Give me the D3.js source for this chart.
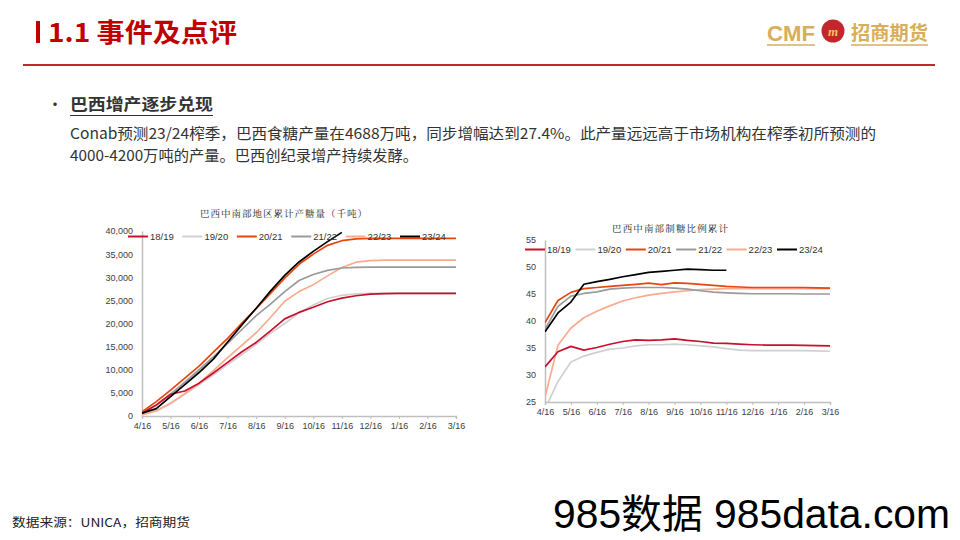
<!DOCTYPE html>
<html><head><meta charset="utf-8">
<script src="https://cdn.jsdelivr.net/npm/d3@7"></script>
<style>
html,body{margin:0;padding:0;background:#fff;}
svg{display:block;font-family:"Noto Sans CJK SC","Liberation Sans",sans-serif;}
</style></head>
<body>
<svg id="c" width="960" height="540"></svg>
<script>
// ---------- data ----------
const seasons = ["18/19","19/20","20/21","21/22","22/23","23/24"];
const tickLabels = ["4/16","5/16","6/16","7/16","8/16","9/16","10/16","11/16","12/16","1/16","2/16","3/16"];
// half-month points from 4/16 to 3/16 (23 points)
const cum1819 = [600,2400,4700,5400,7100,9300,11600,13900,15900,18400,21000,22400,23500,24700,25500,26000,26350,26450,26500,26500,26500,26500,26500];
const cum1920 = [300,1200,2800,4700,6800,8900,11100,13300,15500,17900,20000,22300,24000,25400,26100,26400,26500,26500,26500,26500,26500,26500,26500];
const cum2021 = [900,3100,5600,8200,10800,13800,16800,20100,23200,26500,29800,32800,35000,36900,37900,38300,38400,38400,38400,38400,38400,38400,38400];
const cum2122 = [700,2300,4700,7300,10000,12800,15700,18700,21700,24200,26900,29300,30600,31500,32000,32150,32200,32200,32200,32200,32200,32200,32200];
const cum2223 = [300,1100,2700,4800,7100,9800,12600,15300,18000,21300,24800,26900,28400,30300,32100,33250,33600,33700,33700,33700,33700,33700,33700];
const cum2324 = [600,1600,4200,6800,9400,12300,16000,19700,23300,27000,30400,33300,35600,37700,39700];

const mix1819 = [31.5,34.3,35.3,34.6,35.1,35.7,36.2,36.5,36.4,36.5,36.7,36.4,36.2,35.9,35.85,35.7,35.6,35.55,35.55,35.55,35.5,35.45,35.4];
const mix1920 = [23.7,28.8,32.4,33.5,34.2,34.8,35.0,35.4,35.6,35.6,35.7,35.6,35.4,35.2,34.9,34.6,34.5,34.5,34.5,34.5,34.5,34.45,34.4];
const mix2021 = [39.7,43.8,45.3,46.0,46.2,46.4,46.6,46.8,47.0,46.75,47.05,46.95,46.8,46.6,46.4,46.3,46.2,46.2,46.2,46.2,46.2,46.15,46.1];
const mix2122 = [38.5,42.7,44.6,45.1,45.4,45.9,46.1,46.2,46.2,46.2,46.1,45.9,45.6,45.35,45.2,45.1,45.05,45.05,45.05,45.05,45.0,45.0,45.0];
const mix2223 = [25.9,35.5,38.7,40.6,41.8,42.8,43.7,44.3,44.8,45.1,45.4,45.6,45.8,45.9,46.0,46.0,46.0,46.0,46.0,46.0,46.0,46.0,46.0];
const mix2324 = [38.0,41.5,43.5,46.8,47.3,47.7,48.2,48.6,49.0,49.2,49.4,49.6,49.5,49.4,49.4];

const colors = ["#c8102e","#d0d0d0","#e8450f","#9a9a9a","#fbaa8e","#000000"];
const drawOrder = [1,4,3,0,2,5];

// ---------- page ----------
const svg = d3.select("#c");
// header
svg.append("rect").attr("x",36).attr("y",21).attr("width",4).attr("height",22).attr("fill","#c00000");
svg.append("text").attr("x",48).attr("y",42).attr("font-size",26).attr("font-weight",700)
  .attr("fill","#c00000").attr("textLength",189).attr("lengthAdjust","spacingAndGlyphs").text("1.1 事件及点评");
svg.append("line").attr("x1",23).attr("x2",935).attr("y1",65).attr("y2",65).attr("stroke","#c0282d").attr("stroke-width",2);
// logo
svg.append("text").attr("x",767).attr("y",41).attr("font-size",22).attr("font-weight",700)
  .attr("font-family","Liberation Sans").attr("fill","#d8ad5c").attr("textLength",48).attr("lengthAdjust","spacingAndGlyphs").text("CMF");
svg.append("circle").attr("cx",833).attr("cy",31).attr("r",11.5).attr("fill","#c4262b");
svg.append("text").attr("x",833).attr("y",36).attr("text-anchor","middle").attr("font-size",13).attr("font-weight",700)
  .attr("font-style","italic").attr("fill","#f3c55a").attr("font-family","Liberation Serif").text("m");
svg.append("text").attr("x",851).attr("y",40).attr("font-size",19).attr("font-weight",700)
  .attr("fill","#d8ad5c").attr("textLength",77).attr("lengthAdjust","spacingAndGlyphs").text("招商期货");
svg.append("line").attr("x1",767).attr("x2",815).attr("y1",45).attr("y2",45).attr("stroke","#d8ad5c").attr("stroke-width",1.5);
svg.append("line").attr("x1",851).attr("x2",928).attr("y1",45).attr("y2",45).attr("stroke","#d8ad5c").attr("stroke-width",1.5);

// bullet + subtitle
svg.append("text").attr("x",47).attr("y",110).attr("font-size",16).attr("fill","#333").text("•");
svg.append("text").attr("x",70).attr("y",110).attr("font-size",16).attr("font-weight",700).attr("fill","#333")
  .attr("textLength",143).attr("lengthAdjust","spacingAndGlyphs").text("巴西增产逐步兑现");
svg.append("line").attr("x1",70).attr("x2",213).attr("y1",115.5).attr("y2",115.5).attr("stroke","#333").attr("stroke-width",1.2);
svg.append("text").attr("x",70).attr("y",139).attr("font-size",15).attr("fill","#333")
  .attr("textLength",806).attr("lengthAdjust","spacingAndGlyphs")
  .text("Conab预测23/24榨季，巴西食糖产量在4688万吨，同步增幅达到27.4%。此产量远远高于市场机构在榨季初所预测的");
svg.append("text").attr("x",70).attr("y",161).attr("font-size",15).attr("fill","#333")
  .attr("textLength",348).attr("lengthAdjust","spacingAndGlyphs")
  .text("4000-4200万吨的产量。巴西创纪录增产持续发酵。");

// footer
svg.append("text").attr("x",12).attr("y",527).attr("font-size",12).attr("fill","#222")
  .attr("textLength",178).attr("lengthAdjust","spacingAndGlyphs").text("数据来源：UNICA，招商期货");
svg.append("text").attr("x",553).attr("y",528).attr("font-size",40).attr("fill","#000")
  .attr("font-family","Liberation Sans Narrow, Liberation Sans, Noto Sans CJK SC")
  .attr("textLength",397).attr("lengthAdjust","spacingAndGlyphs").text("985数据 985data.com");

// ---------- chart helper ----------
function chart(cfg){
  const g = svg.append("g");
  const x = d3.scaleLinear().domain([0,22]).range([cfg.x0,cfg.x1]);
  const y = d3.scaleLinear().domain(cfg.yDomain).range([cfg.y0,cfg.y1]);
  const clipId = "clip"+cfg.id;
  svg.append("clipPath").attr("id",clipId).append("rect")
    .attr("x",cfg.x0).attr("y",cfg.y1-2).attr("width",cfg.x1-cfg.x0+2).attr("height",cfg.y0-cfg.y1+2);
  // title
  g.append("text").attr("x",cfg.titleX).attr("y",cfg.titleY).attr("font-size",9.5).attr("fill","#222")
    .attr("font-family","Noto Serif CJK SC, Noto Sans CJK SC")
    .attr("textLength",cfg.titleW).attr("lengthAdjust","spacing").text(cfg.title);
  // axes
  const yAxis = d3.axisLeft(y).tickValues(cfg.yTicks).tickSize(0).tickPadding(9).tickFormat(cfg.fmt);
  const ya = g.append("g").attr("transform",`translate(${cfg.x0},0)`).call(yAxis);
  const monthIdx = d3.range(0,23,2);
  const xAxis = d3.axisBottom(x).tickValues(monthIdx).tickSize(3).tickPadding(4)
    .tickFormat((d,i)=>tickLabels[i]);
  const xa = g.append("g").attr("transform",`translate(0,${cfg.y0})`).call(xAxis);
  [ya,xa].forEach(a=>{
    a.select(".domain").attr("stroke","#bfbfbf").attr("stroke-width",1.5);
    a.selectAll(".tick line").attr("stroke","#bfbfbf");
    a.selectAll("text").attr("font-family","Liberation Sans").attr("font-size",9).attr("fill","#404040");
  });
  // lines
  const line = d3.line().x((d,i)=>x(i)).y(d=>y(d));
  const lg = g.append("g").attr("clip-path",`url(#${clipId})`);
  drawOrder.forEach(k=>{
    lg.append("path").datum(cfg.series[k]).attr("d",line).attr("fill","none")
      .attr("stroke",colors[k]).attr("stroke-width",1.7).attr("stroke-linejoin","round");
  });
  // legend
  seasons.forEach((s,k)=>{
    const lx = cfg.legX + k*cfg.legStep;
    g.append("line").attr("x1",lx).attr("x2",lx+cfg.legLen).attr("y1",cfg.legY).attr("y2",cfg.legY)
      .attr("stroke",colors[k]).attr("stroke-width",2);
    g.append("text").attr("x",lx+cfg.legLen+2).attr("y",cfg.legY+3.5).attr("font-size",9.5)
      .attr("font-family","Liberation Sans").attr("fill","#333").text(s);
  });
}

chart({id:"L", x0:142, x1:456, y0:416, y1:231, yDomain:[0,40000],
  yTicks:d3.range(0,40001,5000), fmt:d3.format(","),
  series:[cum1819,cum1920,cum2021,cum2122,cum2223,cum2324],
  title:"巴西中南部地区累计产糖量（千吨）", titleX:200, titleY:217, titleW:167,
  legX:128, legStep:54.4, legLen:20, legY:236.5});

chart({id:"R", x0:545, x1:830, y0:402, y1:240, yDomain:[25,55],
  yTicks:d3.range(25,56,5), fmt:d3.format("d"),
  series:[mix1819,mix1920,mix2021,mix2122,mix2223,mix2324],
  title:"巴西中南部制糖比例累计", titleX:612, titleY:232, titleW:116,
  legX:525, legStep:50.4, legLen:20, legY:249.5});
</script>
</body></html>
